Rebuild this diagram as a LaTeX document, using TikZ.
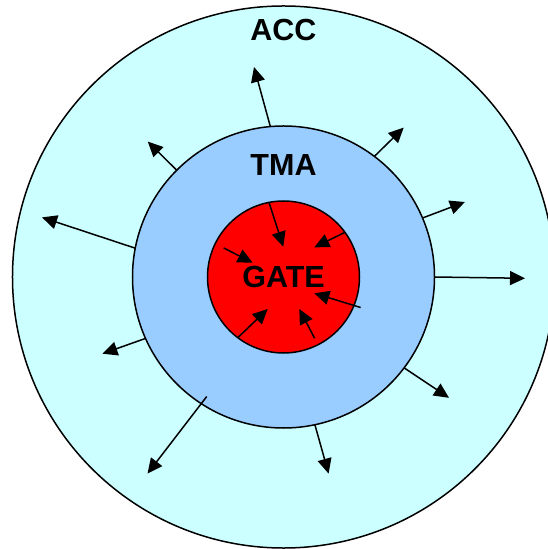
\documentclass[tikz,border=0pt]{standalone}
\usepackage{fontspec}
\setmainfont{Liberation Sans}
\usepackage{tikz}
\usetikzlibrary{arrows.meta}
\usetikzlibrary{positioning}
\definecolor{accblue}{HTML}{CCFFFF}
\definecolor{tmablue}{HTML}{99CCFF}
\definecolor{gatered}{HTML}{FF0000}
\tikzset{
  zone/.style = {circle, draw=black, line width=1.5bp, inner sep=0pt,
    outer sep=0pt, font=\fontsize{30.6}{36}\selectfont\bfseries},
  zone_acc/.style = {zone, fill=accblue, minimum size=542bp},% outer ring
  zone_tma/.style = {zone, fill=tmablue, minimum size=302bp},% middle ring
  zone_gate/.style = {zone, fill=gatered, minimum size=152bp},% core
  lbl/.style = {inner sep=0pt, font=\fontsize{30.6}{36}\selectfont\bfseries},
  flux/.style = {line width=1.5bp, -{Triangle[length=15bp,width=14bp]}}
}

\begin{document}
\begin{tikzpicture}[x=1bp,y=1bp]
\useasboundingbox (-283.5,-272) rectangle (264.5,277);
\node [zone_acc] (acc) at (0,0) {};
\node [zone_tma] (tma) at (0,0) {};
\node [zone_gate] (gate) at (0,0) {GATE};
\node at (acc.north) [lbl,yshift=-24bp] {ACC};
\node at (tma.north) [lbl,yshift=-38.8bp] {TMA};
% arrows leaving the middle ring: angle / shorten / tip
\foreach \a/\s/\tx/\ty [count=\i] in {
  95.7/0/-29.5/210, 53/0/120.2/149.4, 23.7/0/181.4/75,
  -0.4/0/241.5/-1.3, -37.2/0/165.5/-120.8, -78.8/0/45.1/-196.6,
  237.7/-9/-136/-196.6, 204.4/0/-181.1/-76.7, 169.1/0/-241.5/59.6,
  135.1/0/-135.7/135.4} {
  \coordinate (out\i) at (\tx,\ty);
  \draw [flux,shorten <=\s bp] (tma.\a) -- (out\i);
}
% arrows pointing into the core
\foreach \a/\s/\tx/\ty [count=\i] in {
  101.5/0/-0.2/30.3, 36.2/0/30.8/29.7, 154.7/9.5/-30.8/14.3,
  -22.6/-7/30.8/-16.3, 233.9/0/-15.8/-32, -63.7/7.3/15.8/-32} {
  \coordinate (in\i) at (\tx,\ty);
  \draw [flux,shorten <=\s bp] (gate.\a) -- (in\i);
}
\end{tikzpicture}
\end{document}
